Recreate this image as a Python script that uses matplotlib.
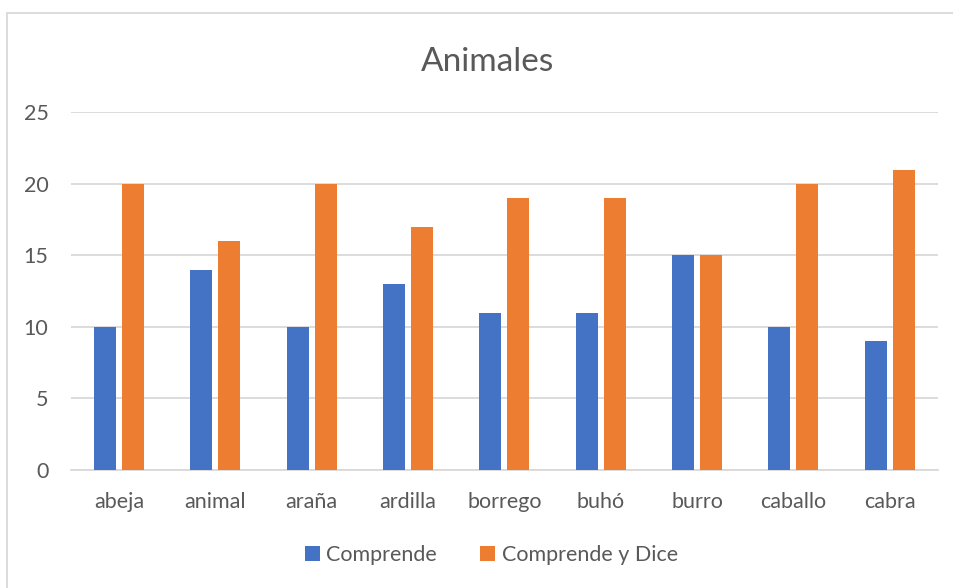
import numpy as np
import matplotlib.pyplot as plt
from matplotlib.patches import Rectangle

categories = ["abeja", "animal", "araña", "ardilla", "borrego", "buhó", "burro", "caballo", "cabra"]
comprende = [10, 14, 10, 13, 11, 11, 15, 10, 9]
comprende_dice = [20, 16, 20, 17, 19, 19, 15, 20, 21]
yticks = [0, 5, 10, 15, 20, 25]

plt.rcParams['font.family'] = ['Lato', 'DejaVu Sans']
txt = '#595959'
grid = '#D9D9D9'

fig = plt.figure(figsize=(9.54, 5.88), dpi=100)
ax = fig.add_axes([0.0741, 0.2007, 0.909, 0.6083])

x = np.arange(len(categories))
w = 0.228
off = 0.145
ax.bar(x - off, comprende, w, color='#4472C4', label='Comprende', zorder=3)
ax.bar(x + off, comprende_dice, w, color='#ED7D31', label='Comprende y Dice', zorder=3)

ax.set_xlim(-0.5, len(categories) - 0.5)
ax.set_ylim(0, 25)
ax.set_yticks(yticks)
ax.set_xticks(x)
ax.set_xticklabels(categories)
ax.yaxis.grid(True, color=grid, linewidth=1.3, zorder=0)
ax.tick_params(axis='both', length=0, labelsize=15.5, colors=txt)
ax.tick_params(axis='y', pad=16)
ax.tick_params(axis='x', pad=16)
for s in ['top', 'right', 'left']:
    ax.spines[s].set_visible(False)
ax.spines['bottom'].set_color(grid)
ax.spines['bottom'].set_linewidth(1.3)

fig.text(0.511, 0.895, "Animales", ha='center', va='center', fontsize=24, color=txt)

fig.legend(loc='center', bbox_to_anchor=(0.515, 0.056), ncol=2, frameon=False,
           fontsize=15.5, labelcolor=txt, handlelength=0.7, handleheight=0.7,
           handletextpad=0.3, columnspacing=2.0)

# outer chart border
fig.patches.append(Rectangle((7 / 954, -0.05), 1.1, 1 - 13 / 588 + 0.05,
                             transform=fig.transFigure, fill=False,
                             edgecolor=grid, linewidth=1.3))

fig.savefig('out.png', dpi=100)
